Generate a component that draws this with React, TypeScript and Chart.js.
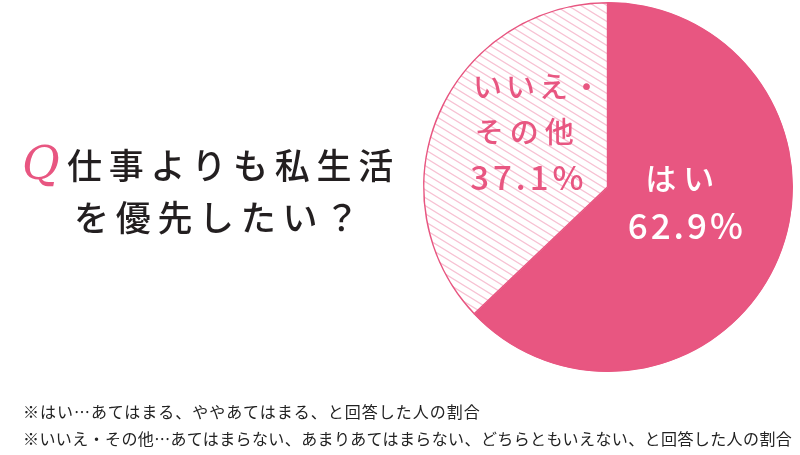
import { useEffect, useRef } from 'react';
import { Chart, registerables } from 'chart.js';

Chart.register(...registerables);

// chart data
const categories = ['はい', 'いいえ・その他'];
const values = [62.9, 37.1];
const labelLines = [['はい'], ['いいえ・', 'その他']];
const titleLines = ['仕事よりも私生活', 'を優先したい？'];
const notes = [
  '※はい…あてはまる、ややあてはまる、と回答した人の割合',
  '※いいえ・その他…あてはまらない、あまりあてはまらない、どちらともいえない、と回答した人の割合',
];

const PINK = '#E85681';
const HATCH = '#F7C2D3';
const JP = '"Noto Sans CJK JP", "Noto Sans", sans-serif';

// white fill with thin pink stripes going down to the right
function makeHatch() {
  const w = 13;
  const h = 8;
  const c = document.createElement('canvas');
  c.width = w;
  c.height = h;
  const g = c.getContext('2d')!;
  g.fillStyle = '#ffffff';
  g.fillRect(0, 0, w, h);
  g.strokeStyle = HATCH;
  g.lineWidth = 1.3;
  g.beginPath();
  for (let k = -1; k <= 1; k++) {
    g.moveTo(-w, k * h - h);
    g.lineTo(2 * w, k * h + 2 * h);
  }
  g.stroke();
  return g.createPattern(c, 'repeat')!;
}

// labels placed relative to the pie centre, in fractions of the radius
const sliceLabels = {
  id: 'sliceLabels',
  afterDatasetsDraw(chart: any) {
    const arc = chart.getDatasetMeta(0).data[0];
    if (!arc) return;
    const { x, y, outerRadius: r } = arc.getProps(['x', 'y', 'outerRadius'], true);
    const ctx = chart.ctx as CanvasRenderingContext2D;
    ctx.save();
    ctx.textBaseline = 'middle';

    // はい
    ctx.fillStyle = '#ffffff';
    ctx.textAlign = 'center';
    ctx.font = `500 31px ${JP}`;
    (ctx as any).letterSpacing = '7px';
    ctx.fillText(labelLines[0][0], x + 0.385 * r + 4, y - 0.05 * r);
    ctx.font = `500 35px ${JP}`;
    (ctx as any).letterSpacing = '3px';
    ctx.fillText(`${values[0].toFixed(1)}%`, x + 0.415 * r + 2, y + 0.21 * r);

    // いいえ・その他
    ctx.fillStyle = PINK;
    ctx.textAlign = 'left';
    ctx.font = `500 29px ${JP}`;
    (ctx as any).letterSpacing = '4px';
    ctx.fillText(labelLines[1][0], x - 0.73 * r, y - 0.54 * r);
    (ctx as any).letterSpacing = '6px';
    ctx.fillText(labelLines[1][1], x - 0.72 * r, y - 0.30 * r);
    ctx.font = `500 33px ${JP}`;
    (ctx as any).letterSpacing = '4px';
    ctx.fillText(`${values[1].toFixed(1)}%`, x - 0.745 * r, y - 0.05 * r);
    ctx.restore();
  },
};

export default function App() {
  const canvasRef = useRef<HTMLCanvasElement | null>(null);

  useEffect(() => {
    document.body.style.margin = '0';
    const canvas = canvasRef.current;
    if (!canvas) return;
    const chart = new Chart(canvas, {
      type: 'pie',
      data: {
        labels: categories,
        datasets: [
          {
            data: values,
            backgroundColor: [PINK, makeHatch()],
            borderColor: PINK,
            borderWidth: 1.2,
            borderAlign: 'inner',
          },
        ],
      },
      options: {
        responsive: false,
        animation: false,
        layout: { padding: { left: 423, right: 7, top: 2, bottom: 83 } },
        plugins: {
          legend: { display: false },
          tooltip: { enabled: false },
        },
      },
      plugins: [sliceLabels],
    });
    return () => chart.destroy();
  }, []);

  return (
    <div style={{ position: 'relative', width: 800, height: 455, background: '#fff', overflow: 'hidden' }}>
      <canvas ref={canvasRef} width={800} height={455} style={{ position: 'absolute', left: 0, top: 0 }} />
      <div
        style={{
          position: 'absolute',
          left: 22,
          top: 135,
          fontFamily: '"DejaVu Serif", serif',
          fontStyle: 'italic',
          fontSize: 46,
          color: PINK,
          lineHeight: '56px',
        }}
      >
        Q
      </div>
      <div
        style={{
          position: 'absolute',
          left: 67,
          top: 138,
          fontFamily: JP,
          fontSize: 35,
          fontWeight: 500,
          letterSpacing: '6.7px',
          color: '#231f20',
          lineHeight: '52px',
          whiteSpace: 'nowrap',
        }}
      >
        <div>{titleLines[0]}</div>
        <div style={{ paddingLeft: 7 }}>{titleLines[1]}</div>
      </div>
      <div
        style={{
          position: 'absolute',
          left: 23,
          top: 398,
          fontFamily: JP,
          fontSize: 16,
          color: '#222',
          lineHeight: '27px',
          whiteSpace: 'nowrap',
        }}
      >
        <div style={{ letterSpacing: '1px' }}>{notes[0]}</div>
        <div style={{ letterSpacing: '0.4px' }}>{notes[1]}</div>
      </div>
    </div>
  );
}
